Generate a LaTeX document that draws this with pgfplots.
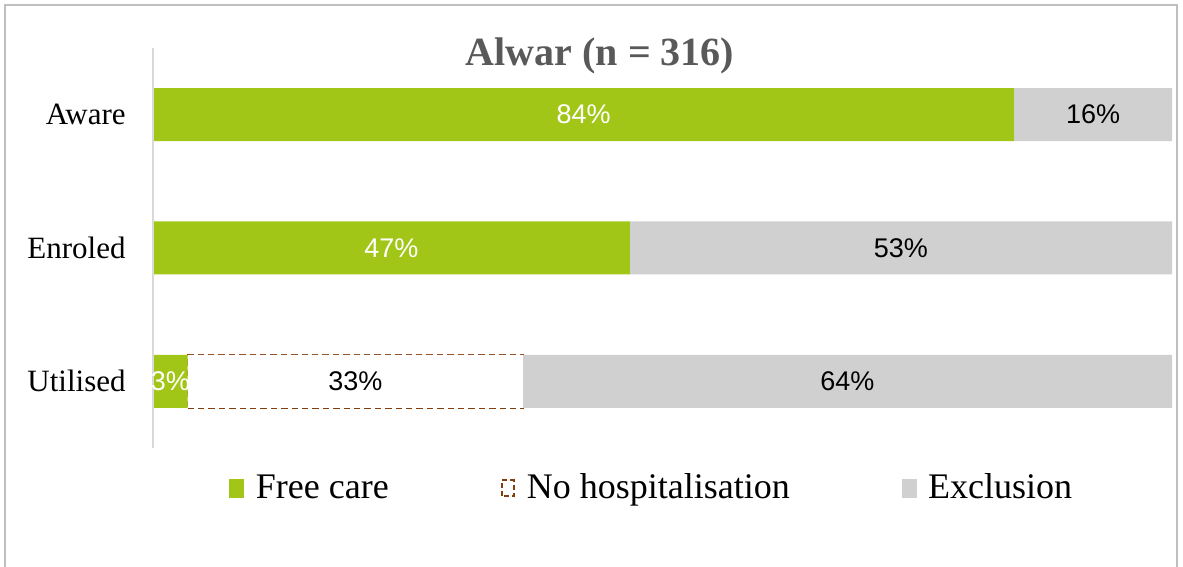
\documentclass[border=0pt]{standalone}
\usepackage{pgfplots}
\pgfplotsset{compat=1.18}
\usepackage{fontspec}
\setmainfont{Liberation Serif}
\newfontfamily\arial{Liberation Sans}
\definecolor{freecare}{RGB}{162,198,23}
\definecolor{excl}{RGB}{208,208,208}
\definecolor{nohosp}{RGB}{132,60,12}
\definecolor{titlegray}{RGB}{89,89,89}
\definecolor{framegray}{RGB}{191,191,191}
\definecolor{axisgray}{RGB}{217,217,217}
\begin{document}
\begin{tikzpicture}
\useasboundingbox (0,0) rectangle (591.5pt,283.5pt);
\draw[framegray, line width=1pt] (2.5pt,-5pt) -- (2.5pt,281pt) -- (588.5pt,281pt) -- (588.5pt,-5pt);
\node[font=\bfseries\fontsize{20}{24}\selectfont, text=titlegray] at (300pt,255.5pt) {Alwar (n = 316)};
\begin{axis}[
  at={(76.5pt,59.5pt)}, anchor=south west,
  scale only axis, width=509.5pt, height=200pt,
  xmin=0, xmax=100, ymin=-0.5, ymax=2.5,
  axis line style={draw=none},
  xtick=\empty,
  ytick={0,1,2}, yticklabels={Utilised,Enroled,Aware},
  major tick length=0pt,
  yticklabel style={font=\fontsize{15.5}{18}\selectfont, inner sep=0pt, xshift=-13.5pt},
  stack plots=x, bar width=26.5pt, bar shift=0pt,
  legend columns=3,
  legend style={draw=none, at={(0.4905,-0.1)}, anchor=center, font=\fontsize{18}{21}\selectfont,
    /tikz/every even column/.append style={column sep=54pt}},
  clip=false,
]
\draw[axisgray, line width=1pt] (axis cs:0,-0.5) -- (axis cs:0,2.5);
\addplot[xbar, fill=freecare, draw=none, forget plot] coordinates {(84.5,2) (46.8,1) (3.4,0)};
\addplot[xbar, fill=white, draw=none, forget plot] coordinates {(0,2) (0,1) (32.9,0)};
\addplot[xbar, fill=excl, draw=none, forget plot] coordinates {(15.5,2) (53.2,1) (63.7,0)};
\addplot[stack plots=false, draw=nohosp, dash pattern=on 3.2pt off 2pt, line width=1pt, mark=none, forget plot]
  coordinates {(3.4,-0.19875) (36.3,-0.19875) (36.3,0.19875) (3.4,0.19875) (3.4,-0.19875)};
\addplot[stack plots=false, only marks, mark=none, nodes near coords, point meta=explicit symbolic,
  every node near coord/.style={font=\arial\fontsize{13.5}{16}\selectfont, text=white, anchor=center}, forget plot]
  coordinates {(42.25,2) [84\%] (23.4,1) [47\%] (1.7,0) [3\%]};
\addplot[stack plots=false, only marks, mark=none, nodes near coords, point meta=explicit symbolic,
  every node near coord/.style={font=\arial\fontsize{13.5}{16}\selectfont, text=black, anchor=center}, forget plot]
  coordinates {(92.25,2) [16\%] (73.4,1) [53\%] (19.85,0) [33\%] (68.15,0) [64\%]};
\addlegendimage{legend image code/.code={\fill[freecare] (0pt,-4.5pt) rectangle (7pt,4.5pt); \path[draw=none,fill=none] (0pt,0pt) -- (11pt,0pt);}}
\addlegendentry{Free care}
\addlegendimage{legend image code/.code={\draw[nohosp, dash pattern=on 2.5pt off 1.6pt, line width=1pt] (0.5pt,-4pt) rectangle (6.5pt,4pt); \path[draw=none,fill=none] (0pt,0pt) -- (11pt,0pt);}}
\addlegendentry{No hospitalisation}
\addlegendimage{legend image code/.code={\fill[excl] (0pt,-4.5pt) rectangle (7pt,4.5pt); \path[draw=none,fill=none] (0pt,0pt) -- (11pt,0pt);}}
\addlegendentry{Exclusion}
\end{axis}
\end{tikzpicture}
\end{document}
